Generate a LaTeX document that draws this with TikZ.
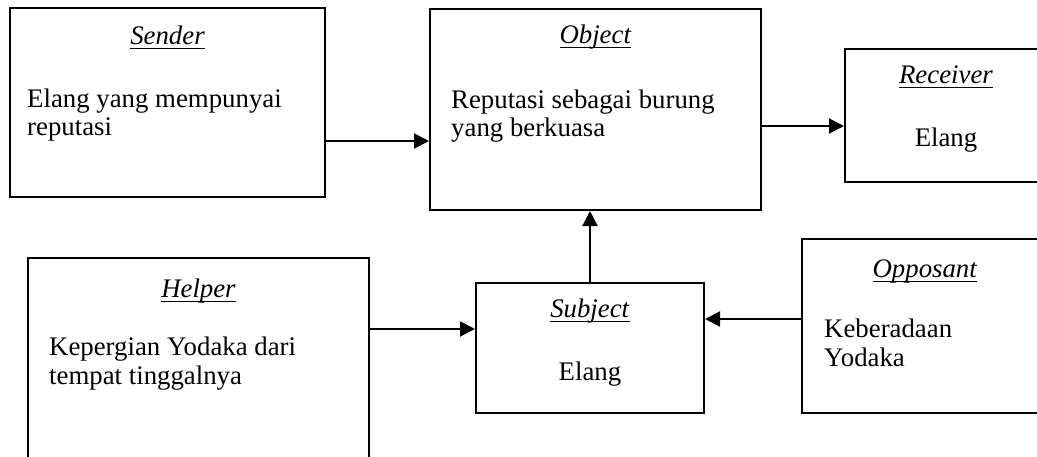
\documentclass[tikz,border=0pt]{standalone}
\usepackage{fontspec}
\setmainfont{Liberation Serif}
\usetikzlibrary{arrows.meta}
\tikzset{
  box/.style={draw, line width=2pt, rectangle, inner sep=0pt},
  txt/.style={inner sep=0pt, font=\fontsize{26.8}{28}\selectfont},
  head/.style={txt, anchor=base},
  body/.style={txt, anchor=base west},
  arr/.style={line width=2pt, -{Triangle[length=15pt,width=15pt]}}
}
\newcommand{\hd}[1]{\setbox0\hbox{\textit{#1}}\rlap{\vrule width \wd0 height -3.5pt depth 5pt}\box0}
\begin{document}
\begin{tikzpicture}[x=1pt,y=-1pt]
\useasboundingbox (0,0) rectangle (1037,456);
\clip (0,0) rectangle (1037,456);
% boxes
\node[box, minimum width=315pt, minimum height=189pt] (sender) at (167.5,102.5) {};
\node[box, minimum width=331pt, minimum height=201pt] (object) at (595.5,109.5) {};
\node[box, minimum width=202pt, minimum height=133pt] (receiver) at (946,115.5) {};
\node[box, minimum width=341pt, minimum height=212pt] (helper) at (198.5,364) {};
\node[box, minimum width=228pt, minimum height=130pt] (subject) at (590,348) {};
\node[box, minimum width=246pt, minimum height=174pt] (opposant) at (925,326) {};
% texts
\node[head] (senderh) at (167.5,44) {\hd{Sender}};
\node[body] (sendert1) at (27,107) {Elang yang mempunyai};
\node[body] (sendert2) at (27,135) {reputasi};
\node[head] (objecth) at (595.5,43) {\hd{Object}};
\node[body] (objectt1) at (451,108) {Reputasi sebagai burung};
\node[body] (objectt2) at (451,136) {yang berkuasa};
\node[head] (receiverh) at (946,83) {\hd{Receiver}};
\node[head] (receivert) at (946,146) {Elang};
\node[head] (helperh) at (198.5,297) {\hd{Helper}};
\node[body] (helpert1) at (49,355) {Kepergian Yodaka dari};
\node[body] (helpert2) at (49,384) {tempat tinggalnya};
\node[head] (subjecth) at (590,317) {\hd{Subject}};
\node[head] (subjectt) at (590,380) {Elang};
\node[head] (opposanth) at (925,277) {\hd{Opposant}};
\node[body] (opposantt1) at (824,337) {Keberadaan};
\node[body] (opposantt2) at (824,366) {Yodaka};
% connectors
\draw[arr] (sender.east |- 0,141) -- (object.west |- 0,141);
\draw[arr] (object.east |- 0,126) -- (receiver.west |- 0,126);
\draw[arr] (subject.north) -- (object.south -| subject.north);
\draw[arr] (helper.east |- 0,329) -- (subject.west |- 0,329);
\draw[arr] (opposant.west |- 0,319) -- (subject.east |- 0,319);
\end{tikzpicture}
\end{document}
